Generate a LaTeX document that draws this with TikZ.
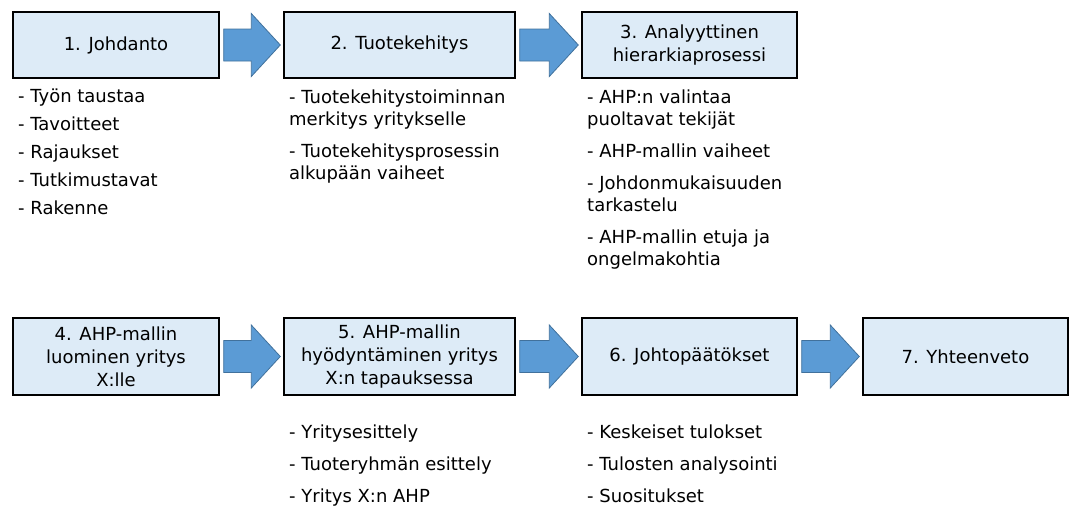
\documentclass[tikz,border=0pt]{standalone}
\usepackage{fontspec}
\setmainfont{DejaVu Sans}
\usetikzlibrary{calc}
\definecolor{boxfill}{RGB}{221,235,247}
\definecolor{arrowfill}{RGB}{91,155,213}
\definecolor{arrowline}{RGB}{65,113,156}

\begin{document}
\begin{tikzpicture}[x=1pt,y=-1pt]
      \tikzset { chapter/.style = { draw,line width=1.4pt,fill=boxfill,align=center,inner sep=2pt,font=\fontsize{18}{23}\selectfont } }
      \tikzset { notes/.style = { anchor=north west,align=left,inner sep=0pt,font=\fontsize{18}{22}\selectfont } }
      \tikzset { flow/.style = { draw=arrowline,fill=arrowfill,line width=0.8pt,
          to path={let \p1=(\tikztostart), \p2=(\tikztotarget) in
            (\x1+4pt,\y1+16pt) -- (\x2-32pt,\y1+16pt) -- (\x2-32pt,\y1+31.5pt) -- (\x2-3pt,\y1)
            -- (\x2-32pt,\y1-31.5pt) -- (\x2-32pt,\y1-16pt) -- (\x1+4pt,\y1-16pt) -- cycle} } }

      \useasboundingbox (0,0) rectangle (1069,506);

      % upper row
      \node[chapter,minimum width=206pt,minimum height=66pt] (johdanto) at (116,45) {1. Johdanto};
      \node[chapter,minimum width=231pt,minimum height=66pt] (tuotekehitys) at (399.5,45) {2. Tuotekehitys};
      \node[chapter,minimum width=215pt,minimum height=66pt] (ahp) at (689.5,45) {3. Analyyttinen\\hierarkiaprosessi};

      % lower row
      \node[chapter,minimum width=206pt,minimum height=77pt] (luominen) at (116,356.5) {4. AHP-mallin\\luominen yritys\\X:lle};
      \node[chapter,minimum width=231pt,minimum height=77pt] (hyodyntaminen) at (399.5,356.5) {5. AHP-mallin\\hyödyntäminen yritys\\X:n tapauksessa};
      \node[chapter,minimum width=215pt,minimum height=77pt] (johtopaatokset) at (689.5,356.5) {6. Johtopäätökset};
      \node[chapter,minimum width=205pt,minimum height=77pt] (yhteenveto) at (965.5,356.5) {7. Yhteenveto};

      \draw[flow] (johdanto.east) to (tuotekehitys.west);
      \draw[flow] (tuotekehitys.east) to (ahp.west);
      \draw[flow] (luominen.east) to (hyodyntaminen.west);
      \draw[flow] (hyodyntaminen.east) to (johtopaatokset.west);
      \draw[flow] (johtopaatokset.east) to (yhteenveto.west);

      % contents
      \node[notes] (johdantolist) at (18,88.5) {- Työn taustaa\\[6pt]- Tavoitteet\\[6pt]- Rajaukset\\[6pt]- Tutkimustavat\\[6pt]- Rakenne};
      \node[notes] (tuotekehityslist) at (289,89.5) {- Tuotekehitystoiminnan\\merkitys yritykselle\\[10pt]- Tuotekehitysprosessin\\alkupään vaiheet};
      \node[notes] (ahplist) at (587,89.5) {- AHP:n valintaa\\puoltavat tekijät\\[10pt]- AHP-mallin vaiheet\\[10pt]- Johdonmukaisuuden\\tarkastelu\\[10pt]- AHP-mallin etuja ja\\ongelmakohtia};
      \node[notes] (hyodyntaminenlist) at (289,424.5) {- Yritysesittely\\[10pt]- Tuoteryhmän esittely\\[10pt]- Yritys X:n AHP};
      \node[notes] (johtopaatoksetlist) at (587,424.5) {- Keskeiset tulokset\\[10pt]- Tulosten analysointi\\[10pt]- Suositukset};

    \end{tikzpicture}
\end{document}
